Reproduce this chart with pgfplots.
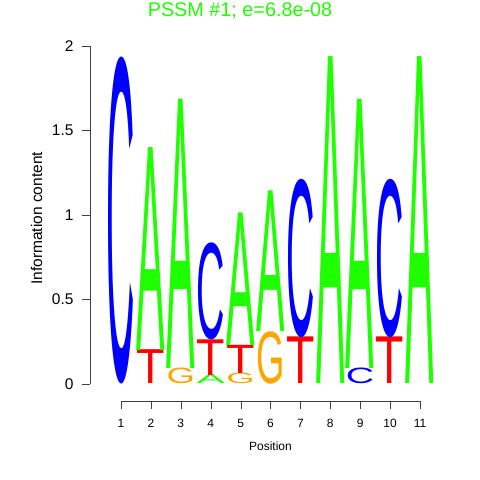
\documentclass[border=0pt]{standalone}
\usepackage{fontspec}
\setmainfont{Liberation Sans}
\usepackage{graphicx}
\usepackage{pgfplots}
\pgfplotsset{compat=1.18}
\usepackage{pgfplotstable}

\definecolor{cA}{RGB}{30,255,0}
\definecolor{cC}{RGB}{0,0,255}
\definecolor{cG}{RGB}{255,165,0}
\definecolor{cT}{RGB}{255,0,0}

% position, base, height, letter
\pgfplotstableread{
x  y0    h     L
1  0     1.930 C
2  0     0.200 T
2  0.200 1.200 A
3  0     0.093 G
3  0.093 1.593 A
4  0     0.053 A
4  0.053 0.211 T
4  0.264 0.574 C
5  0     0.063 G
5  0.063 0.167 T
5  0.230 0.784 A
6  0     0.310 G
6  0.310 0.832 A
7  0     0.276 T
7  0.276 0.937 C
8  0     1.933 A
9  0     0.093 C
9  0.093 1.593 A
10 0     0.276 T
10 0.276 0.937 C
11 0     1.933 A
}\logo

\begin{document}
\begin{tikzpicture}
\begin{axis}[
  x=29.9bp, y=169bp,
  xmin=1, xmax=11, ymin=0, ymax=2,
  clip=false,
  axis lines=left,
  axis line style={-, black!75},
  axis x line shift=17bp,
  axis y line shift=31bp,
  xtick={1,...,11},
  ytick={0,0.5,1,1.5,2},
  yticklabels={0,0.5,1,1.5,2},
  tick align=outside,
  major tick length=8bp,
  tick style={black!75},
  xticklabel style={font=\fontsize{12bp}{14bp}\selectfont, yshift=-7bp},
  yticklabel style={font=\fontsize{15.5bp}{18bp}\selectfont, xshift=-5bp},
  /pgf/number format/assume math mode=true,
  xlabel={Position},
  ylabel={Information content},
  xlabel style={font=\fontsize{12bp}{14bp}\selectfont, at={(axis description cs:0.5,-0.183)}, anchor=center},
  ylabel style={font=\fontsize{15.5bp}{18bp}\selectfont, at={(axis description cs:-0.282,0.49)}, anchor=center},
  title={PSSM \#1; e=6.8e-08},
  title style={at={(axis description cs:0.398,1.086)}, anchor=center,
    text=cA, font=\fontsize{19.8bp}{23bp}\selectfont},
]
\addplot[only marks, mark=*, mark size=0pt, mark options={draw=none, fill=none},
  point meta=explicit symbolic,
  visualization depends on={\thisrow{h}*169 \as \myH},
  nodes near coords={\resizebox*{28.4bp}{\myH bp}{\textcolor{c\pgfplotspointmeta}{\pgfplotspointmeta}}},
  nodes near coords align={center},
  every node near coord/.append style={anchor=south, inner sep=0pt, outer sep=0pt},
] table[x=x, y=y0, meta=L] {\logo};
\coordinate (ll) at (axis cs:-3.047,-0.568);
\coordinate (ur) at (axis cs:13.007,2.272);
\end{axis}
\pgfresetboundingbox
\path[use as bounding box] (ll) rectangle (ur);
\end{tikzpicture}
\end{document}
